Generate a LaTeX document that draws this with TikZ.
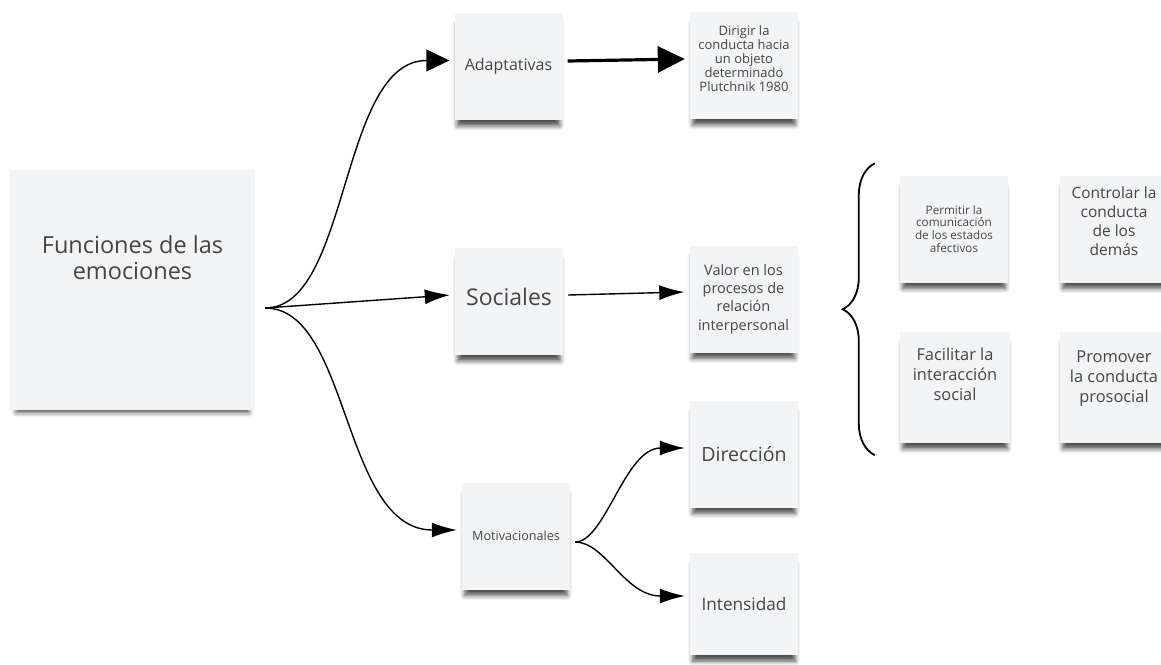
\documentclass[tikz,border=0pt]{standalone}
\usepackage{fontspec}
\setmainfont{Open Sans}
\usepackage{xcolor}
\usetikzlibrary{arrows.meta,shadows.blur,decorations.pathreplacing}

\definecolor{notefill}{HTML}{F3F4F6}
\definecolor{notetext}{HTML}{454545}
% texto subido dentro de la nota
\newcommand{\lifted}[2]{\raisebox{#1}[0pt][0pt]{\begin{tabular}{@{}c@{}}#2\end{tabular}}}

\begin{document}
\begin{tikzpicture}[x=1pt,y=-1pt]
        \tikzset{note/.style={fill=notefill,draw=none,inner sep=2pt,align=center,
                text=notetext,minimum width=108pt,minimum height=107pt,
                blur shadow={shadow xshift=0pt,shadow yshift=-9pt,shadow scale=0.95,
                    shadow blur radius=5pt,shadow opacity=70}},
            link/.style={draw,line width=1.4pt,-{Latex[length=25pt,width=15pt]}},
            bighead/.style={-{Triangle[length=23pt,width=22pt]}},
            biglink/.style={draw,line width=3.2pt,-{Triangle[length=27pt,width=26pt]}}}
        \useasboundingbox (0,0) rectangle (1161,664);
        % notas
        \node[note,minimum width=245pt,minimum height=240pt] (main) at (132.5,290)
            {\fontsize{23.5}{26}\selectfont\lifted{22pt}{Funciones de las\\emociones}};
        \node[note,font=\fontsize{16}{18}\selectfont] (adapt) at (508.5,66.5) {Adaptativas};
        \node[note,font=\fontsize{13}{13.8}\selectfont] (dirigir) at (744,65.5)
            {\lifted{1.5pt}{Dirigir la\\conducta hacia\\un objeto\\determinado\\Plutchnik 1980}};
        \node[note,font=\fontsize{23}{26}\selectfont] (social) at (509,301.5) {\lifted{-5pt}{Sociales}};
        \node[note,font=\fontsize{14.5}{18.3}\selectfont] (valor) at (743.5,299)
            {Valor en los\\procesos de\\relación\\interpersonal};
        \node[note,font=\fontsize{12.6}{15}\selectfont] (motiv) at (516,536) {Motivacionales};
        \node[note,font=\fontsize{19.6}{22}\selectfont] (direc) at (744,454) {Dirección};
        \node[note,minimum height=102pt,font=\fontsize{17.2}{21}\selectfont] (inten) at (744,604) {Intensidad};
        \node[note,font=\fontsize{11.7}{12.8}\selectfont] (permit) at (954,229)
            {Permitir la\\comunicación\\de los estados\\afectivos};
        \node[note,font=\fontsize{15.5}{19}\selectfont] (control) at (1114,229)
            {\lifted{2pt}{Controlar la\\conducta\\de los\\demás}};
        \node[note,minimum width=110pt,minimum height=111pt,font=\fontsize{16.4}{20}\selectfont] (facil) at (955,387.5)
            {\lifted{7pt}{Facilitar la\\interacción\\social}};
        \node[note,minimum height=111pt,font=\fontsize{16.4}{20}\selectfont] (promov) at (1114,387.5)
            {\lifted{5pt}{Promover\\la conducta\\prosocial}};
        % flechas
        \coordinate (fork) at ([xshift=10pt,yshift=-18pt]main.east);
        \coordinate (mfork) at ([xshift=5pt,yshift=-6pt]motiv.east);
        \draw[link,bighead] (fork) .. controls +(85,0) and +(-110,0) .. ([xshift=-5pt,yshift=6pt]adapt.west);
        \draw[link] (fork) -- ([xshift=-5pt,yshift=6.5pt]social.west);
        \draw[link] (fork) .. controls +(85,0) and +(-115,0) .. ([xshift=-5pt,yshift=6pt]motiv.west);
        \draw[biglink] ([xshift=5pt,yshift=5.5pt]adapt.east) -- ([xshift=-5pt,yshift=6.5pt]dirigir.west);
        \draw[link] ([xshift=5pt,yshift=6.5pt]social.east) -- ([xshift=-5pt,yshift=7pt]valor.west);
        \draw[link] (mfork) .. controls +(30,0) and +(-60,0) .. ([xshift=-5pt,yshift=6pt]direc.west);
        \draw[link] (mfork) .. controls +(30,0) and +(-60,0) .. ([xshift=-5pt,yshift=8pt]inten.west);
        % llave
        \draw[line width=1.8pt,decorate,decoration={brace,amplitude=32pt}]
            ([xshift=-25pt,yshift=-12pt]facil.south west) -- ([xshift=-25pt,yshift=12pt]permit.north west);
    \end{tikzpicture}
\end{document}
